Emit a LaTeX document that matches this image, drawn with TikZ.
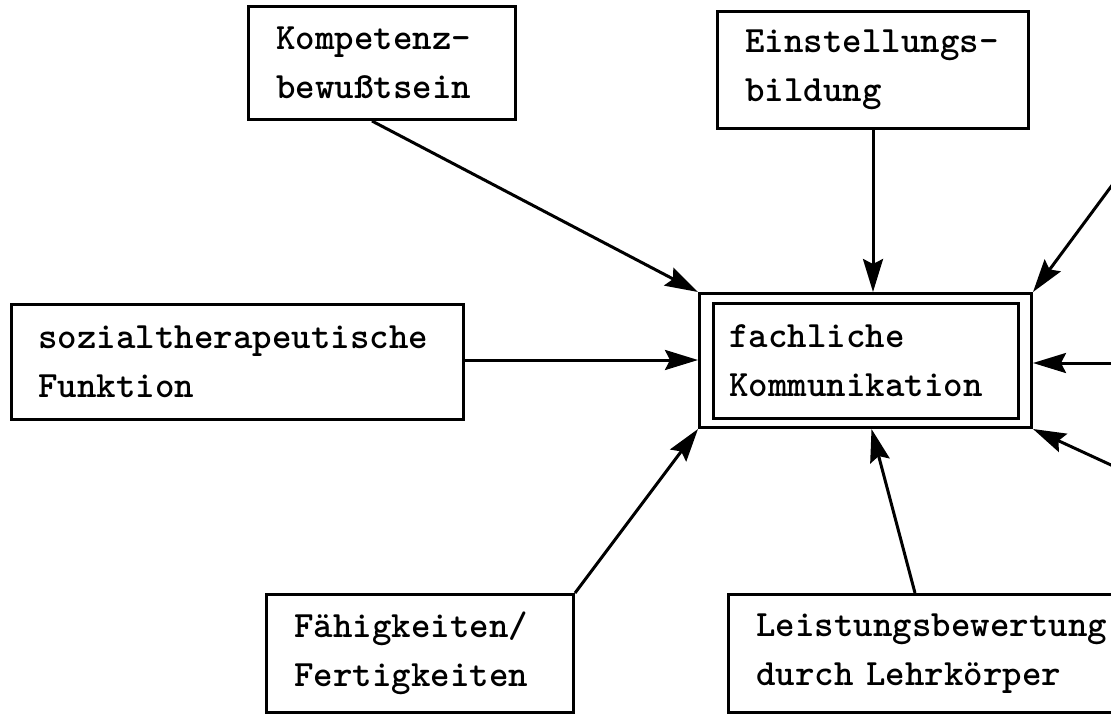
\documentclass[tikz,border=0pt]{standalone}
\usepackage{fontspec}
\usetikzlibrary{arrows.meta,calc}
\begin{document}
\begin{tikzpicture}[x=1pt,y=-1pt,
  box/.style={draw,line width=3pt,rectangle,anchor=north west,align=left,
    inner ysep=0pt,font=\ttfamily\bfseries\fontsize{37.1}{49}\selectfont},
  arr/.style={line width=3pt,-{Stealth[length=33pt,width=20pt,inset=5pt]}}]
\useasboundingbox (0,0) rectangle (1111,718);
\clip (0,0) rectangle (1111,718);
\fill[white] (0,0) rectangle (1111,718);
% boxes
\node[box,text width=211pt,inner xsep=28pt,minimum height=113pt] (komp) at (247,5) {Kompetenz-\\bewußtsein};
\node[box,text width=255pt,inner xsep=28pt,minimum height=117pt] (einst) at (716,10) {Einstellungs-\\bildung};
\node[box,text width=398pt,inner xsep=27pt,minimum height=115pt] (soz) at (10,303) {sozialtherapeutische\\Funktion};
\node[box,minimum width=332pt,minimum height=134pt,inner sep=0pt] (cent) at (698,292) {};
\node[box,text width=273pt,inner xsep=16pt,minimum height=115pt] (centin) at (712,302) {fachliche\\Kommunikation};
\node[box,text width=251pt,inner xsep=28pt,minimum height=118pt] (fahig) at (265,593) {Fähigkeiten/\\Fertigkeiten};
\node[box,text width=371pt,inner xsep=28pt,minimum height=118pt] (leist) at (727,593) {Leistungsbewertung\\durch Lehrkörper};
% free ends of arrows coming from outside the picture
\coordinate (ur) at (1150,134);
\coordinate (rr) at (1150,363);
\coordinate (lr) at (1150,483);
% arrows
\draw[arr] ([xshift=-10pt]komp.south) -- (cent.north west);
\draw[arr] (einst.south) -- (einst.south |- cent.north);
\draw[arr] (ur) -- (cent.north east);
\draw[arr] (rr) -- (rr -| cent.east);
\draw[arr] (lr) -- (cent.south east);
\draw[arr] ([yshift=2pt]soz.east) -- ([yshift=2pt]soz.east -| cent.west);
\draw[arr] (fahig.north east) -- (cent.south west);
\draw[arr] ([xshift=188pt]leist.north west) -- ([xshift=6pt]cent.south);
\end{tikzpicture}
\end{document}
